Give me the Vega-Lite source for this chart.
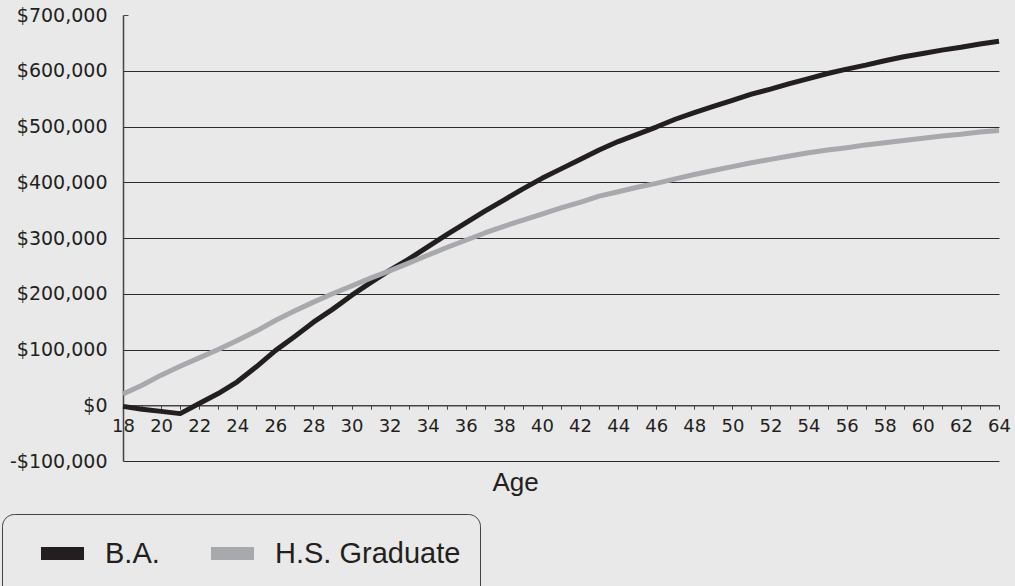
{
  "$schema": "https://vega.github.io/schema/vega-lite/v6.json",
  "width": 876,
  "height": 446,
  "autosize": {"type": "none"},
  "padding": {"left": 123, "top": 15, "right": 16, "bottom": 125},
  "background": "#e9e9e9",
  "config": {
    "view": {"stroke": null},
    "font": "Liberation Sans"
  },
  "data": {
    "values": [
      {"age": 18, "series": "B.A.", "value": -2000},
      {"age": 19, "series": "B.A.", "value": -7000},
      {"age": 20, "series": "B.A.", "value": -11000},
      {"age": 21, "series": "B.A.", "value": -15000},
      {"age": 22, "series": "B.A.", "value": 3000},
      {"age": 23, "series": "B.A.", "value": 21000},
      {"age": 24, "series": "B.A.", "value": 42000},
      {"age": 25, "series": "B.A.", "value": 69000},
      {"age": 26, "series": "B.A.", "value": 98000},
      {"age": 27, "series": "B.A.", "value": 123000},
      {"age": 28, "series": "B.A.", "value": 149000},
      {"age": 29, "series": "B.A.", "value": 172000},
      {"age": 30, "series": "B.A.", "value": 197000},
      {"age": 31, "series": "B.A.", "value": 220000},
      {"age": 32, "series": "B.A.", "value": 242000},
      {"age": 33, "series": "B.A.", "value": 262000},
      {"age": 34, "series": "B.A.", "value": 284000},
      {"age": 35, "series": "B.A.", "value": 306000},
      {"age": 36, "series": "B.A.", "value": 327000},
      {"age": 37, "series": "B.A.", "value": 348000},
      {"age": 38, "series": "B.A.", "value": 368000},
      {"age": 39, "series": "B.A.", "value": 388000},
      {"age": 40, "series": "B.A.", "value": 407000},
      {"age": 41, "series": "B.A.", "value": 424000},
      {"age": 42, "series": "B.A.", "value": 441000},
      {"age": 43, "series": "B.A.", "value": 458000},
      {"age": 44, "series": "B.A.", "value": 473000},
      {"age": 45, "series": "B.A.", "value": 486000},
      {"age": 46, "series": "B.A.", "value": 499000},
      {"age": 47, "series": "B.A.", "value": 513000},
      {"age": 48, "series": "B.A.", "value": 525000},
      {"age": 49, "series": "B.A.", "value": 536000},
      {"age": 50, "series": "B.A.", "value": 547000},
      {"age": 51, "series": "B.A.", "value": 558000},
      {"age": 52, "series": "B.A.", "value": 567000},
      {"age": 53, "series": "B.A.", "value": 577000},
      {"age": 54, "series": "B.A.", "value": 586000},
      {"age": 55, "series": "B.A.", "value": 595000},
      {"age": 56, "series": "B.A.", "value": 603000},
      {"age": 57, "series": "B.A.", "value": 610000},
      {"age": 58, "series": "B.A.", "value": 618000},
      {"age": 59, "series": "B.A.", "value": 625000},
      {"age": 60, "series": "B.A.", "value": 631000},
      {"age": 61, "series": "B.A.", "value": 637000},
      {"age": 62, "series": "B.A.", "value": 642000},
      {"age": 63, "series": "B.A.", "value": 648000},
      {"age": 64, "series": "B.A.", "value": 653000},
      {"age": 18, "series": "H.S. Graduate", "value": 20000},
      {"age": 19, "series": "H.S. Graduate", "value": 36000},
      {"age": 20, "series": "H.S. Graduate", "value": 54000},
      {"age": 21, "series": "H.S. Graduate", "value": 70000},
      {"age": 22, "series": "H.S. Graduate", "value": 85000},
      {"age": 23, "series": "H.S. Graduate", "value": 100000},
      {"age": 24, "series": "H.S. Graduate", "value": 116000},
      {"age": 25, "series": "H.S. Graduate", "value": 133000},
      {"age": 26, "series": "H.S. Graduate", "value": 152000},
      {"age": 27, "series": "H.S. Graduate", "value": 169000},
      {"age": 28, "series": "H.S. Graduate", "value": 185000},
      {"age": 29, "series": "H.S. Graduate", "value": 200000},
      {"age": 30, "series": "H.S. Graduate", "value": 214000},
      {"age": 31, "series": "H.S. Graduate", "value": 228000},
      {"age": 32, "series": "H.S. Graduate", "value": 241000},
      {"age": 33, "series": "H.S. Graduate", "value": 255000},
      {"age": 34, "series": "H.S. Graduate", "value": 269000},
      {"age": 35, "series": "H.S. Graduate", "value": 283000},
      {"age": 36, "series": "H.S. Graduate", "value": 296000},
      {"age": 37, "series": "H.S. Graduate", "value": 309000},
      {"age": 38, "series": "H.S. Graduate", "value": 321000},
      {"age": 39, "series": "H.S. Graduate", "value": 332000},
      {"age": 40, "series": "H.S. Graduate", "value": 343000},
      {"age": 41, "series": "H.S. Graduate", "value": 354000},
      {"age": 42, "series": "H.S. Graduate", "value": 364000},
      {"age": 43, "series": "H.S. Graduate", "value": 375000},
      {"age": 44, "series": "H.S. Graduate", "value": 383000},
      {"age": 45, "series": "H.S. Graduate", "value": 391000},
      {"age": 46, "series": "H.S. Graduate", "value": 398000},
      {"age": 47, "series": "H.S. Graduate", "value": 406000},
      {"age": 48, "series": "H.S. Graduate", "value": 414000},
      {"age": 49, "series": "H.S. Graduate", "value": 421000},
      {"age": 50, "series": "H.S. Graduate", "value": 428000},
      {"age": 51, "series": "H.S. Graduate", "value": 435000},
      {"age": 52, "series": "H.S. Graduate", "value": 441000},
      {"age": 53, "series": "H.S. Graduate", "value": 447000},
      {"age": 54, "series": "H.S. Graduate", "value": 453000},
      {"age": 55, "series": "H.S. Graduate", "value": 458000},
      {"age": 56, "series": "H.S. Graduate", "value": 462000},
      {"age": 57, "series": "H.S. Graduate", "value": 467000},
      {"age": 58, "series": "H.S. Graduate", "value": 471000},
      {"age": 59, "series": "H.S. Graduate", "value": 475000},
      {"age": 60, "series": "H.S. Graduate", "value": 479000},
      {"age": 61, "series": "H.S. Graduate", "value": 483000},
      {"age": 62, "series": "H.S. Graduate", "value": 486000},
      {"age": 63, "series": "H.S. Graduate", "value": 490000},
      {"age": 64, "series": "H.S. Graduate", "value": 493000}
    ]
  },
  "mark": {"type": "line", "strokeWidth": 5, "strokeCap": "butt", "strokeJoin": "round"},
  "encoding": {
    "x": {
      "field": "age",
      "type": "quantitative",
      "scale": {"domain": [18, 64], "nice": false, "zero": false},
      "axis": {
        "orient": "bottom",
        "offset": -55.75,
        "values": [18,19,20,21,22,23,24,25,26,27,28,29,30,31,32,33,34,35,36,37,38,39,40,41,42,43,44,45,46,47,48,49,50,51,52,53,54,55,56,57,58,59,60,61,62,63,64],
        "labelExpr": "datum.value % 2 == 0 ? datum.label : ''",
        "labelOverlap": false,
        "labelFlush": false,
        "labelBound": false,
        "grid": false,
        "domainColor": "#444444",
        "domainWidth": 1.5,
        "tickColor": "#444444",
        "tickWidth": 1,
        "tickSize": 4,
        "labelPadding": 8,
        "labelFont": "DejaVu Sans",
        "labelFontSize": 18,
        "labelColor": "#231f20",
        "title": "Age",
        "titleFont": "Liberation Sans",
        "titleFontSize": 26,
        "titleFontWeight": "normal",
        "titleColor": "#231f20",
        "titleX": 392,
        "titleY": 85,
        "titleAlign": "center",
        "titleBaseline": "alphabetic"
      }
    },
    "y": {
      "field": "value",
      "type": "quantitative",
      "scale": {"domain": [-100000, 700000], "nice": false, "zero": false},
      "axis": {
        "values": [-100000, 0, 100000, 200000, 300000, 400000, 500000, 600000, 700000],
        "labelExpr": "datum.value < 0 ? '-$' + format(-datum.value, ',') : '$' + format(datum.value, ',')",
        "grid": true,
        "gridColor": {"condition": {"test": "datum.value == 700000", "value": "transparent"}, "value": "#2a2a2a"},
        "gridWidth": 1,
        "domainColor": "#444444",
        "domainWidth": 1.5,
        "ticks": true,
        "tickSize": -5,
        "tickWidth": 1,
        "tickColor": {"condition": {"test": "datum.value == 700000", "value": "#444444"}, "value": "transparent"},
        "labelPadding": 21,
        "labelFont": "DejaVu Sans",
        "labelFontSize": 19,
        "labelColor": "#231f20",
        "title": null
      }
    },
    "color": {
      "field": "series",
      "type": "nominal",
      "scale": {"domain": ["B.A.", "H.S. Graduate"], "range": ["#231f20", "#a7a9ac"]},
      "legend": {
        "title": null,
        "orient": "none",
        "direction": "horizontal",
        "legendX": -121,
        "legendY": 499,
        "padding": 19.5,
        "strokeColor": "#444444",
        "cornerRadius": 12,
        "symbolType": "M-1.6,0H1.6",
        "symbolSize": 723,
        "symbolStrokeWidth": 13,
        "symbolStrokeCap": "butt",
        "symbolOffset": 21,
        "labelOffset": 22.5,
        "columnPadding": 24,
        "labelFont": "Liberation Sans",
        "labelFontSize": 29,
        "labelColor": "#231f20",
        "labelLimit": 400
      }
    }
  }
}
